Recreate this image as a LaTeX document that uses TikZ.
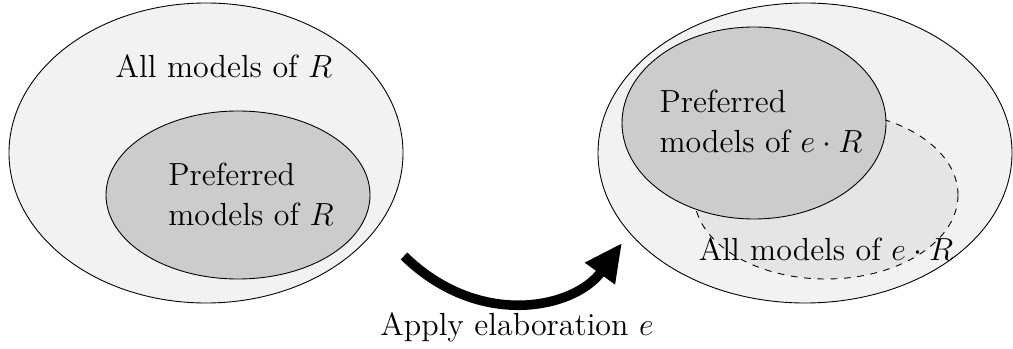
\documentclass[tikz,border=0pt]{standalone}
\usepackage{tikz}
\usetikzlibrary{shapes.geometric, arrows.meta, positioning}
\tikzset{
	modelset/.style={draw, ellipse, inner sep=0pt}
}
\tikzset{
	settext/.style={font=\Large, align=left}
}

\begin{document}
\begin{tikzpicture}[x=0.45pt, y=-0.45pt]
      \useasboundingbox (0,0) rectangle (1013,349);
      \node[modelset, fill=black!5, minimum width=177.3pt, minimum height=135pt] (allR) at (206,153) {};
      \node[modelset, fill=black!20, minimum width=118.8pt, minimum height=75.6pt] (prefR) at (238,195) {};
      \node[settext] (allRtext) at (224,66) {All models of $R$};
      \node[settext] (prefRtext) at (251,194) {Preferred\\models of $R$};
      \node[modelset, fill=black!5, minimum width=186.3pt, minimum height=135pt] (allE) at (805,153) {};
      \node[modelset, dashed, fill=black!10, minimum width=118.8pt, minimum height=75.6pt] (newE) at (826,195) {};
      \node[modelset, fill=black!20, minimum width=118.8pt, minimum height=86.4pt] (prefE) at (754,123) {};
      \node[settext] (prefEtext) at (761,121) {Preferred\\models of $e\cdot R$};
      \node[settext] (allEtext) at (826,249) {All models of $e\cdot R$};
      \coordinate (from) at (404,256);
      \coordinate (to) at (622,243);
      \draw[line width=4.3pt, -{Triangle[length=17pt, width=15.5pt]}] (from) .. controls (480,330) and (575,308) .. (to);
      \node[settext] (apply) at (517,327) {Apply elaboration $e$};
    \end{tikzpicture}
\end{document}
